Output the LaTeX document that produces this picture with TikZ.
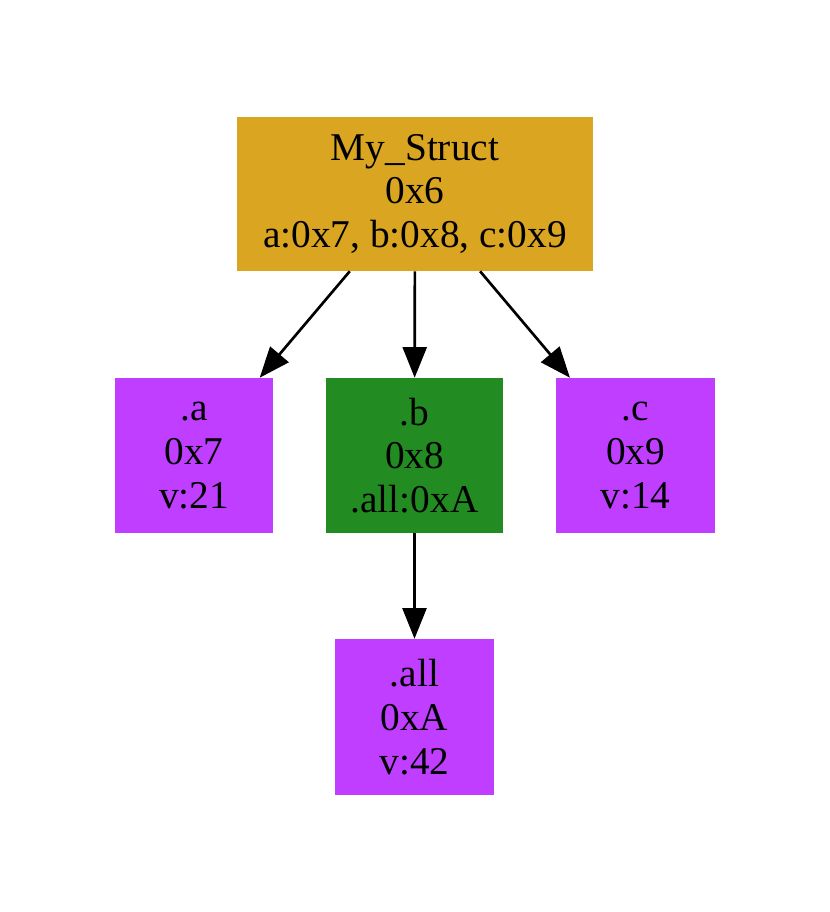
\documentclass[tikz,border=0pt]{standalone}
\usepackage{fontspec}
\setmainfont{Liberation Serif}
\usetikzlibrary{arrows.meta}
\definecolor{gold}{HTML}{DAA520}
\definecolor{orch}{HTML}{BF3EFF}
\definecolor{fgreen}{HTML}{228B22}
\begin{document}
\begin{tikzpicture}[x=0.75pt,y=-0.75pt,
  box/.style={draw=none,inner sep=0pt,align=center,font=\fontsize{29.5pt}{32.8pt}\selectfont},
  arr/.style={line width=2pt,-{Triangle[length=23pt,width=18pt]}}]
\useasboundingbox[fill=white] (0,0) rectangle (830,912);
\node[box,fill=gold,minimum width=356*0.75pt,minimum height=154*0.75pt] (ms) at (415,194) {My\_Struct\\0x6\\a:0x7, b:0x8, c:0x9};
\node[box,fill=orch,minimum width=158*0.75pt,minimum height=155*0.75pt] (a) at (194,455.5) {.a\\0x7\\v:21};
\node[box,fill=fgreen,minimum width=177*0.75pt,minimum height=155*0.75pt] (b) at (414.5,455.5) {.b\\0x8\\.all:0xA};
\node[box,fill=orch,minimum width=159*0.75pt,minimum height=155*0.75pt] (c) at (635.5,455.5) {.c\\0x9\\v:14};
\node[box,fill=orch,minimum width=159*0.75pt,minimum height=156*0.75pt] (all) at (414.5,717) {.all\\0xA\\v:42};
\draw[arr] (ms) -- (a);
\draw[arr] (ms) -- (b);
\draw[arr] (ms) -- (c);
\draw[arr] (b) -- (all);
\end{tikzpicture}
\end{document}
